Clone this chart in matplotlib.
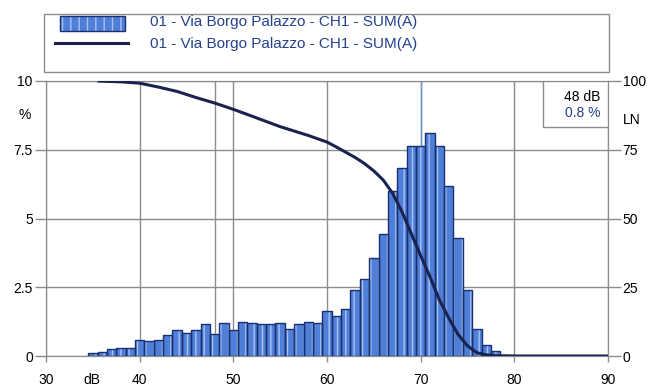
import numpy as np
import matplotlib
matplotlib.use('Agg')
import matplotlib.pyplot as plt
from matplotlib.patches import Rectangle
from matplotlib.lines import Line2D

plt.rcParams['font.family'] = ['Liberation Sans', 'DejaVu Sans']
plt.rcParams['font.size'] = 10

# level distribution, 1 dB classes centred on the level (percent of time)
levels = np.arange(35, 80)
hist_pct = [0.1, 0.15, 0.25, 0.3, 0.3, 0.6, 0.55, 0.6, 0.75, 0.95,
            0.85, 0.95, 1.15, 0.8, 1.2, 0.95, 1.25, 1.2, 1.15, 1.15,
            1.2, 1.0, 1.15, 1.25, 1.2, 1.65, 1.45, 1.7, 2.4, 2.8,
            3.55, 4.45, 6.0, 6.85, 7.65, 7.65, 8.1, 7.65, 6.2, 4.3,
            2.4, 1.0, 0.4, 0.2, 0.05]

# cumulative LN curve (percent of time level is exceeded)
ln_db = [35.5, 38, 40, 42, 44, 46, 48, 50, 52, 55, 58, 60, 61, 62, 63, 64,
         65, 66, 67, 68, 69, 70, 71, 72, 73, 74, 75, 76, 77, 78, 80, 90]
ln_val = [100, 99.7, 99.2, 97.8, 96.2, 94, 92, 89.7, 87.2, 83.4, 80.2, 77.8,
          76.0, 74.1, 72.2, 70.0, 67.3, 64, 59.2, 52.5, 44.5, 36.5, 28.8,
          20.4, 13.8, 7.8, 3.7, 1.2, 0.4, 0.1, 0, 0]

x_ticks = [30, 40, 50, 60, 70, 80, 90]
pct_ticks = [0, 2.5, 5, 7.5, 10]
pct_labels = ['0', '2.5', '5', '7.5', '10']
ln_ticks = [0, 25, 50, 75, 100]

series_name = '01 - Via Borgo Palazzo - CH1 - SUM(A)'
cursor_db = 48

bar_face = '#4f7fd8'
bar_hatch = '#a9c3f2'
bar_edge = '#18306e'
line_col = '#1a2250'
grid_col = '#8c8c8c'
label_blue = '#24418f'

W, H = 649, 389
fig = plt.figure(figsize=(W / 100, H / 100), dpi=100)
ax = fig.add_axes([46 / W, 1 - 356 / H, (608 - 46) / W, (356 - 81) / H])

ax.set_xlim(30, 90)
ax.set_ylim(0, 10)
ax.set_xticks(x_ticks)
ax.set_yticks(pct_ticks)
ax.set_yticklabels(pct_labels)
ax.grid(True, color=grid_col, lw=1, zorder=0)
ax.set_axisbelow(True)

# histogram bars: striped fill then dark outline
ax.bar(levels, hist_pct, width=1.0, color=bar_face, edgecolor=bar_hatch,
       linewidth=0, hatch='||', zorder=2)
ax.bar(levels, hist_pct, width=1.0, fill=False, edgecolor=bar_edge,
       linewidth=1.0, zorder=3)

# cursor and marker lines
ax.axvline(cursor_db, color=grid_col, lw=1, zorder=1)
ax.axvline(70, color='#6f8fd6', lw=1, zorder=1)

ax.tick_params(axis='y', direction='out', length=8, width=1, color=grid_col, pad=1.5)
ax.tick_params(axis='x', direction='out', length=4.5, width=1, color=grid_col, pad=8)
for s in ax.spines.values():
    s.set_color(grid_col)

twin = ax.twinx()
twin.set_ylim(0, 100)
twin.set_yticks(ln_ticks)
twin.plot(ln_db, ln_val, color=line_col, lw=2.2, zorder=4, solid_capstyle='butt')
twin.tick_params(axis='y', direction='out', length=9, width=1, color=grid_col, pad=1.5)
for s in twin.spines.values():
    s.set_color(grid_col)

# cursor readout box
idx = list(levels).index(cursor_db)
twin.add_patch(Rectangle((0.884, 0.833), 0.116, 0.167, transform=ax.transAxes,
                         facecolor='white', edgecolor=grid_col, lw=1, zorder=5))
twin.text(0.986, 0.942, f'{cursor_db} dB', transform=ax.transAxes,
          ha='right', va='center', fontsize=10, zorder=6)
twin.text(0.986, 0.884, f'{hist_pct[idx]} %', transform=ax.transAxes,
          ha='right', va='center', fontsize=10, color=label_blue, zorder=6)

# axis captions
fig.text(25 / W, 1 - 115 / H, '%', ha='center', va='center', fontsize=10)
fig.text(632 / W, 1 - 120 / H, 'LN', ha='center', va='center', fontsize=10)
fig.text(92 / W, 1 - 380 / H, 'dB', ha='center', va='center', fontsize=10)

# legend frame drawn by hand
fig.add_artist(Rectangle((44 / W, 1 - 72 / H), (609 - 44) / W, (72 - 14) / H,
                         transform=fig.transFigure, fill=False,
                         edgecolor=grid_col, lw=1))
fig.add_artist(Rectangle((60 / W, 1 - 31 / H), 65 / W, 15 / H,
                         transform=fig.transFigure, facecolor=bar_face,
                         edgecolor=bar_hatch, lw=0, hatch='||'))
fig.add_artist(Rectangle((60 / W, 1 - 31 / H), 65 / W, 15 / H,
                         transform=fig.transFigure, fill=False,
                         edgecolor=bar_edge, lw=1))
fig.add_artist(Line2D([55 / W, 128 / W], [1 - 43 / H, 1 - 43 / H],
                      transform=fig.transFigure, color=line_col, lw=2.2))
fig.text(150 / W, 1 - 22 / H, series_name, ha='left', va='center',
         fontsize=11, color=label_blue)
fig.text(150 / W, 1 - 44 / H, series_name, ha='left', va='center',
         fontsize=11, color=label_blue)

fig.savefig('out.png', dpi=100)
